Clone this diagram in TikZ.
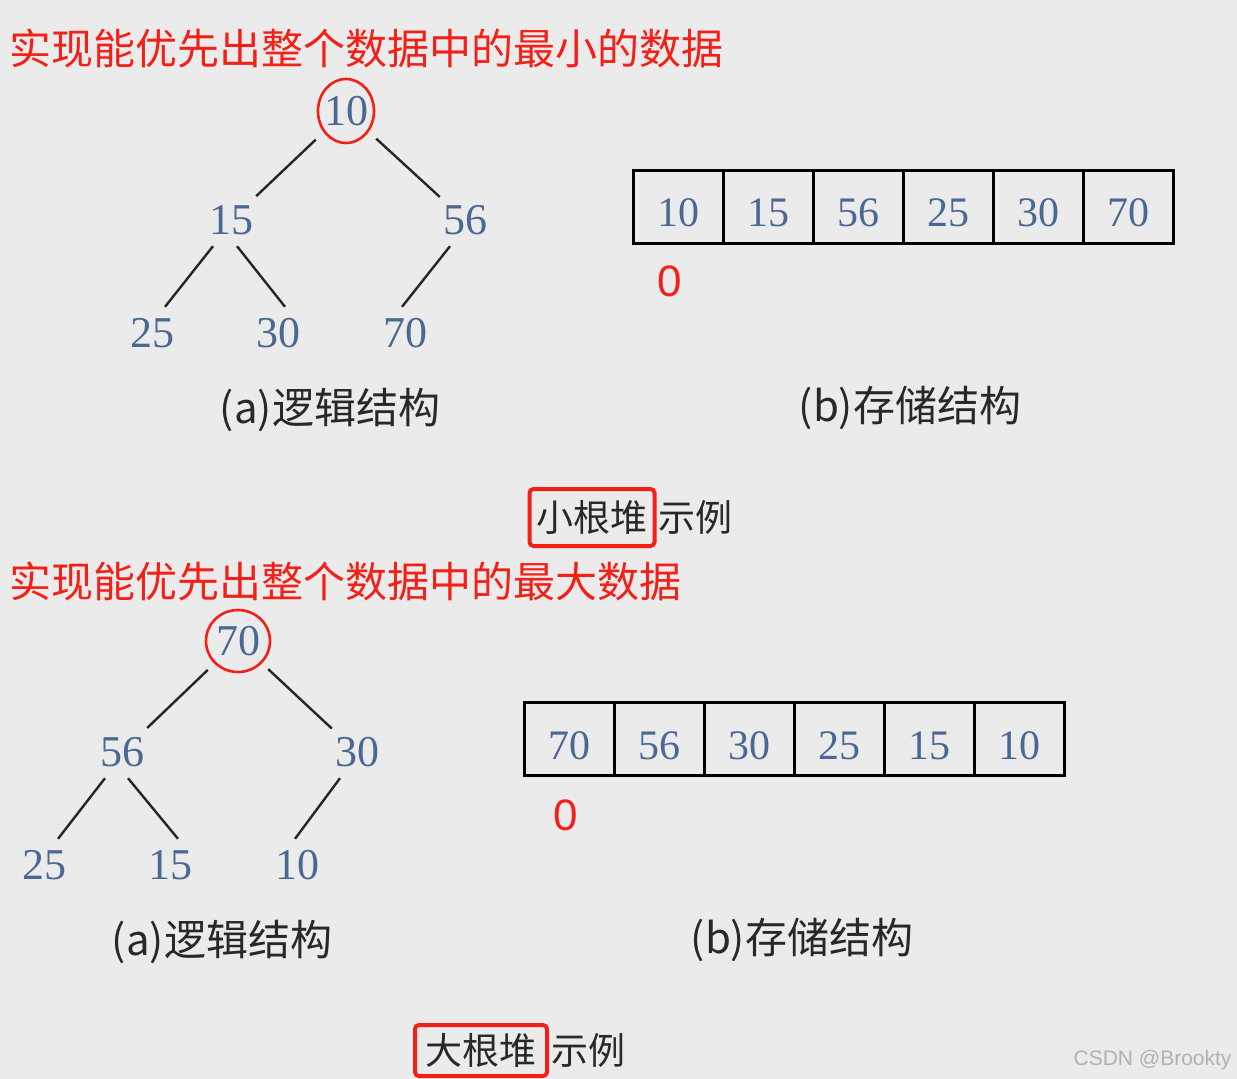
\documentclass[tikz,border=0pt]{standalone}
\usepackage{fontspec}
\setmainfont{Liberation Serif}
\newfontfamily\cjkfont{Noto Sans CJK SC}
\newfontfamily\marksans{Liberation Sans}
\usetikzlibrary{positioning}
\definecolor{heapbg}{RGB}{235,235,235}
\definecolor{heapnum}{RGB}{74,104,146}
\definecolor{heapred}{RGB}{244,32,24}
\definecolor{heapink}{RGB}{40,40,40}
\newcommand{\bigsize}[1]{\fontsize{#1}{#1}\selectfont}
\tikzset{
  key/.style={rectangle,inner sep=0pt,minimum width=50pt,minimum height=52pt,text=heapnum,font=\bigsize{44}},
  rootkey/.style={key,minimum width=60pt,minimum height=60pt},
  link/.style={line width=2.4pt,draw=black!85},
  cell/.style={draw,line width=3pt,minimum width=90pt,minimum height=73pt,inner sep=0pt,
    text height=40pt,text depth=0pt,text=heapnum,font=\bigsize{42}},
  title/.style={anchor=west,text=heapred,font=\cjkfont\bigsize{42}},
  caption/.style={text=heapink,font=\cjkfont\bigsize{42}},
  tag/.style={text=heapink,font=\cjkfont\bigsize{37},inner sep=0pt},
  tagbox/.style={tag,draw=heapred,line width=4pt,rounded corners=4pt},
  zero/.style={text=heapred,font=\marksans\bigsize{44}},
}
\begin{document}
\begin{tikzpicture}[x=1pt,y=-1pt]
  \fill[heapbg] (0,0) rectangle (1237,1079);
  \useasboundingbox (0,0) rectangle (1237,1079);

  % min heap
  \node[title] (mintitle) at (6,48) {实现能优先出整个数据中的最小的数据};
  \node[rootkey] (n10) at (346,111) {10};
  \draw[heapred,line width=2.6pt] (n10) ellipse [x radius=28, y radius=32];
  \node[key] (n15) at (231,220) {15};
  \node[key] (n56) at (465,220) {56};
  \node[key] (n25) at (152,333) {25};
  \node[key] (n30) at (278,333) {30};
  \node[key] (n70) at (405,333) {70};
  \draw[link] (n10) -- (n15);
  \draw[link] (n10) -- (n56);
  \draw[link] ([xshift=-18pt]n15.south) -- ([xshift=13pt]n25.north);
  \draw[link] ([xshift=6pt]n15.south) -- ([xshift=7pt]n30.north);
  \draw[link] ([xshift=-15pt]n56.south) -- ([xshift=-3pt]n70.north);
  \foreach \v [count=\i] in {10,15,56,25,30,70}
    \node[cell] (min\i) at ({588+90*\i},206.5) {\v};
  \node[zero] (minzero) at (670,281) {0};
  \node[caption] (mina) at (330,410) {(a)逻辑结构};
  \node[caption] (minb) at (910,408) {(b)存储结构};
  \node[tagbox,minimum width=125pt,minimum height=57pt] (minname) at (592,517.5) {小根堆};
  \node[tag,right=2pt of minname] (minex) {示例};

  % max heap
  \node[title] (maxtitle) at (6,581) {实现能优先出整个数据中的最大数据};
  \node[rootkey] (m70) at (238,641) {70};
  \draw[heapred,line width=2.6pt] (m70) ellipse [x radius=32, y radius=31];
  \node[key] (m56) at (122,752) {56};
  \node[key] (m30) at (357,752) {30};
  \node[key] (m25) at (44,865) {25};
  \node[key] (m15) at (170,865) {15};
  \node[key] (m10) at (297,865) {10};
  \draw[link] (m70) -- (m56);
  \draw[link] (m70) -- (m30);
  \draw[link] ([xshift=-17pt]m56.south) -- ([xshift=14pt]m25.north);
  \draw[link] ([xshift=6pt]m56.south) -- ([xshift=8pt]m15.north);
  \draw[link] ([xshift=-17pt]m30.south) -- ([xshift=-2pt]m10.north);
  \foreach \v [count=\i] in {70,56,30,25,15,10}
    \node[cell] (max\i) at ({479+90*\i},739) {\v};
  \node[zero] (maxzero) at (566,815) {0};
  \node[caption] (maxa) at (222,942) {(a)逻辑结构};
  \node[caption] (maxb) at (802,940) {(b)存储结构};
  \node[tagbox,minimum width=132pt,minimum height=51pt] (maxname) at (481,1050.5) {大根堆};
  \node[tag,right=2pt of maxname] (maxex) {示例};

  \node[anchor=east,text=black!30,font=\marksans\bigsize{21}] (mark) at (1235,1060) {CSDN @Brookty};
\end{tikzpicture}
\end{document}
